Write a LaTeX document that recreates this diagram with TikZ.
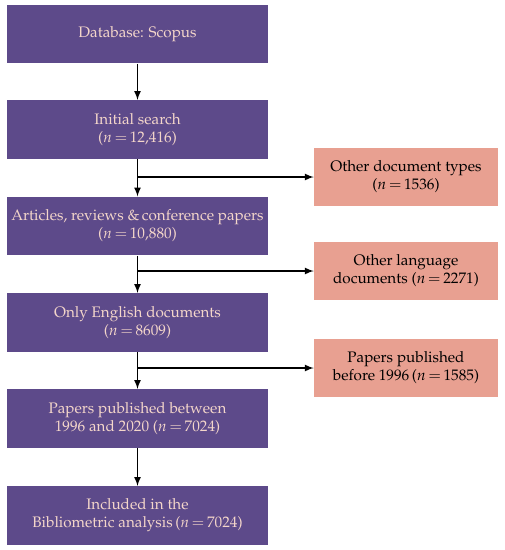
\documentclass[tikz,border=0pt]{standalone}
\usepackage[T1]{fontenc}
\usepackage{mathpazo}
\usetikzlibrary{arrows}
\definecolor{scopurple}{RGB}{93,74,138}
\definecolor{scopink}{RGB}{232,160,145}
\definecolor{scotext}{RGB}{244,214,202}
\newcommand{\nval}[1]{$n\,{=}\,#1$}

\begin{document}
\begin{tikzpicture}[x=0.03cm,y=-0.03cm,>=latex,
  stage/.style={fill=scopurple,text=scotext,minimum width=7.83cm,minimum height=1.76cm,
    align=center,font=\fontsize{13}{15.5}\selectfont,inner sep=0pt},
  excluded/.style={fill=scopink,text=black,minimum width=5.52cm,minimum height=1.74cm,
    align=center,font=\fontsize{13}{15.5}\selectfont,inner sep=0pt},
  flow/.style={->,line width=1.6pt}]
\useasboundingbox (0,0) rectangle (505,550);
% main stages
\node[stage] (db) at (137.5,34) {Database: Scopus};
\node[stage] (init) at (137.5,129.5) {Initial search\\(\nval{12{,}416})};
\node[stage] (art) at (137.5,226) {Articles, reviews \&\,conference papers\\(\nval{10{,}880})};
\node[stage] (eng) at (137.5,322.5) {Only English documents\\(\nval{8609})};
\node[stage] (pub) at (137.5,418.5) {Papers published between\\1996 and 2020 (\nval{7024})};
\node[stage] (incl) at (137.5,515.5) {Included in the\\Bibliometric analysis\,(\nval{7024})};
% excluded records
\node[excluded] (types) at (406,177) {Other document types\\(\nval{1536})};
\node[excluded] (lang) at (406,271) {Other language\\documents (\nval{2271})};
\node[excluded] (old) at (406,368) {Papers published\\before 1996\,(\nval{1585})};
% arrows
\draw[flow] (db) -- (init);
\draw[flow] (init) -- (art);
\draw[flow] (art) -- (eng);
\draw[flow] (eng) -- (pub);
\draw[flow] (pub) -- (incl);
\draw[flow] (init.south |- types.west) -- (types.west);
\draw[flow] (art.south |- lang.west) -- (lang.west);
\draw[flow] (eng.south |- old.west) -- (old.west);
\end{tikzpicture}
\end{document}
